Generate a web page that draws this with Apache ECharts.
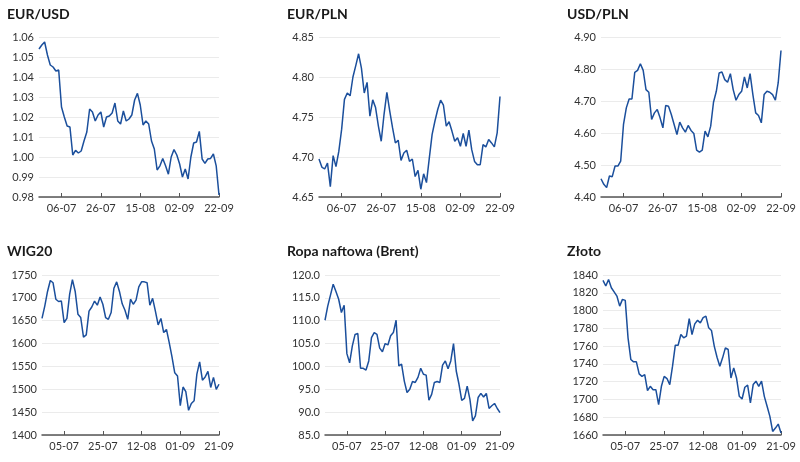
<!DOCTYPE html>
<html>
<head>
<meta charset="utf-8">
<script src="https://cdn.jsdelivr.net/npm/echarts@6/dist/echarts.min.js"></script>
<style>
html,body{margin:0;padding:0;background:#fff;}
#c{width:800px;height:462px;}
</style>
</head>
<body>
<div id="c"></div>
<script>
// Categories (business days)
const datesTop = ['24-06','27-06','28-06','29-06','30-06','01-07','04-07','05-07','06-07','07-07','08-07','11-07','12-07','13-07','14-07','15-07','18-07','19-07','20-07','21-07','22-07','25-07','26-07','27-07','28-07','29-07','01-08','02-08','03-08','04-08','05-08','08-08','09-08','10-08','11-08','12-08','15-08','16-08','17-08','18-08','19-08','22-08','23-08','24-08','25-08','26-08','29-08','30-08','31-08','01-09','02-09','05-09','06-09','07-09','08-09','09-09','12-09','13-09','14-09','15-09','16-09','19-09','20-09','21-09','22-09'];
const datesBottom = ['23-06','24-06','27-06','28-06','29-06','30-06','01-07','04-07','05-07','06-07','07-07','08-07','11-07','12-07','13-07','14-07','15-07','18-07','19-07','20-07','21-07','22-07','25-07','26-07','27-07','28-07','29-07','01-08','02-08','03-08','04-08','05-08','08-08','09-08','10-08','11-08','12-08','15-08','16-08','17-08','18-08','19-08','22-08','23-08','24-08','25-08','26-08','29-08','30-08','31-08','01-09','02-09','05-09','06-09','07-09','08-09','09-09','12-09','13-09','14-09','15-09','16-09','19-09','20-09','21-09'];

// Series values
const eurusd = [1.054,1.056,1.0575,1.051,1.046,1.045,1.043,1.0435,1.025,1.020,1.0155,1.015,1.001,1.0033,1.002,1.003,1.008,1.0125,1.024,1.0225,1.018,1.021,1.0225,1.015,1.020,1.0205,1.022,1.027,1.018,1.0165,1.023,1.018,1.019,1.021,1.0285,1.0318,1.026,1.016,1.018,1.0165,1.008,1.004,0.9935,0.9956,0.9993,0.9956,0.9914,1.000,1.0037,1.001,0.9965,0.990,0.994,0.989,1.000,1.007,1.0075,1.0128,0.999,0.9968,0.999,0.9993,1.0015,0.9956,0.981];
const eurpln = [4.6975,4.6874,4.685,4.6924,4.663,4.7017,4.688,4.707,4.7345,4.772,4.780,4.7765,4.800,4.8143,4.829,4.811,4.780,4.7933,4.751,4.7714,4.7618,4.7387,4.7197,4.7534,4.7807,4.7576,4.7366,4.7176,4.721,4.6958,4.705,4.7084,4.6945,4.6975,4.6756,4.6832,4.6597,4.679,4.668,4.6987,4.7282,4.745,4.7597,4.771,4.7647,4.7387,4.7441,4.7324,4.7197,4.724,4.7134,4.7294,4.7134,4.7336,4.7092,4.6945,4.6903,4.6903,4.7155,4.7126,4.7218,4.7176,4.7126,4.7302,4.7756];
const usdpln = [4.457,4.4397,4.4293,4.4656,4.4636,4.4968,4.4968,4.5124,4.6266,4.6785,4.7065,4.7065,4.7896,4.7958,4.8166,4.7958,4.7356,4.7273,4.6422,4.6629,4.6733,4.6474,4.6162,4.6858,4.6837,4.6577,4.6266,4.5954,4.6339,4.6162,4.6027,4.6235,4.6079,4.5985,4.5466,4.5404,4.5466,4.6058,4.5881,4.6214,4.6962,4.7304,4.7875,4.7907,4.7668,4.7585,4.7855,4.7356,4.7024,4.72,4.7304,4.7751,4.7408,4.7855,4.72,4.6629,4.6546,4.6318,4.72,4.7304,4.7273,4.72,4.7024,4.7564,4.858];
const wig20 = [1655,1682,1714,1738,1733,1697,1692,1693,1646,1655,1708,1740,1714,1664,1657,1614,1619,1671,1680,1693,1684,1702,1686,1657,1653,1668,1721,1735,1714,1687,1673,1653,1697,1686,1695,1724,1735,1735,1733,1684,1699,1671,1641,1655,1624,1631,1602,1571,1536,1529,1464,1505,1495,1454,1469,1475,1533,1560,1520,1527,1539,1504,1526,1500,1511];
const brent = [110.1,113.2,115.6,118.0,116.4,114.7,111.8,113.4,102.8,100.8,104.5,107.0,107.2,99.6,99.6,99.2,101.2,106.3,107.4,107.0,104.0,103.2,105.0,104.7,106.7,107.4,110.1,100.1,100.5,96.8,94.3,95.0,96.7,96.5,97.6,99.6,98.3,98.1,92.6,93.9,96.5,96.7,96.5,100.3,101.2,99.5,101.2,105.0,99.0,96.1,92.6,93.0,95.7,92.8,88.1,89.2,93.2,94.1,93.3,94.1,90.8,91.4,91.9,90.8,89.9];
const zloto = [1834,1827.6,1835,1825.7,1821,1816.3,1805,1812.6,1811.4,1769.3,1745,1742.3,1742.3,1728.7,1726,1728,1710,1714.8,1711,1711,1694.1,1714.8,1726,1723.5,1716.7,1737.4,1761,1761,1773,1769.3,1771.2,1791,1773,1785,1789,1786.2,1792,1793.8,1780.6,1777.6,1760,1747.5,1737.4,1746.8,1758,1756.2,1724.2,1735.5,1724.2,1703.5,1700.5,1713.7,1716,1696,1716.7,1720.5,1714.8,1720.5,1703.5,1692.3,1681,1664,1667.8,1672.3,1662.2];

// Titles and axis ranges
const titles = ['EUR/USD','EUR/PLN','USD/PLN','WIG20','Ropa naftowa (Brent)','Złoto'];
const yMins = [0.98,4.65,4.40,1400,85,1660];
const yMaxs = [1.06,4.85,4.90,1750,120,1840];
const yIntervals = [0.01,0.05,0.10,50,5,20];
const yDecimals = [2,2,2,0,1,0];

const seriesData = [eurusd,eurpln,usdpln,wig20,brent,zloto];
const cats = [datesTop,datesTop,datesTop,datesBottom,datesBottom,datesBottom];

// Layout
const grids = [
  {left:39,top:37,width:180,height:160},
  {left:319,top:37,width:181,height:160},
  {left:601,top:37,width:180,height:160},
  {left:42,top:275,width:177,height:160},
  {left:325,top:275,width:175,height:160},
  {left:603,top:275,width:178,height:160}
];
const titlePos = [
  {left:7,top:7},{left:287,top:7},{left:567,top:7},
  {left:7,top:244},{left:287,top:244},{left:567,top:244}
];

const FONT = 'Lato, "Open Sans", sans-serif';
const tickFn = (i) => (i - 8) % 14 === 0;
const LINE = '#1b4f9c';

const option = {
  backgroundColor:'#fff',
  animation:false,
  title: titles.map((t,i)=>({
    text:t, left:titlePos[i].left, top:titlePos[i].top, padding:0,
    textStyle:{fontFamily:FONT,fontSize:14,fontWeight:'bold',color:'#1a1a1a'}
  })),
  grid: grids.map(g=>Object.assign({containLabel:false},g)),
  xAxis: cats.map((c,i)=>({
    type:'category', gridIndex:i, data:c, boundaryGap:false,
    axisLine:{show:true,lineStyle:{color:'#555',width:1.5}},
    axisTick:{show:true,inside:true,length:4,interval:tickFn,lineStyle:{color:'#555'}},
    axisLabel:{interval:tickFn,color:'#333',fontFamily:FONT,fontSize:11,margin:6},
    splitLine:{show:false}
  })),
  yAxis: yMins.map((m,i)=>({
    type:'value', gridIndex:i, min:m, max:yMaxs[i], interval:yIntervals[i],
    axisLine:{show:false}, axisTick:{show:false},
    axisLabel:{color:'#333',fontFamily:FONT,fontSize:11,margin:5,
      formatter:(v)=>Number(v).toFixed(yDecimals[i])},
    splitLine:{show:true,lineStyle:{color:'#ebebeb',width:1}}
  })),
  series: seriesData.map((d,i)=>({
    type:'line', xAxisIndex:i, yAxisIndex:i, data:d, symbol:'none',
    lineStyle:{color:LINE,width:1.5}
  }))
};

const chart = echarts.init(document.getElementById('c'),null,{renderer:'canvas'});
chart.setOption(option);
</script>
</body>
</html>
